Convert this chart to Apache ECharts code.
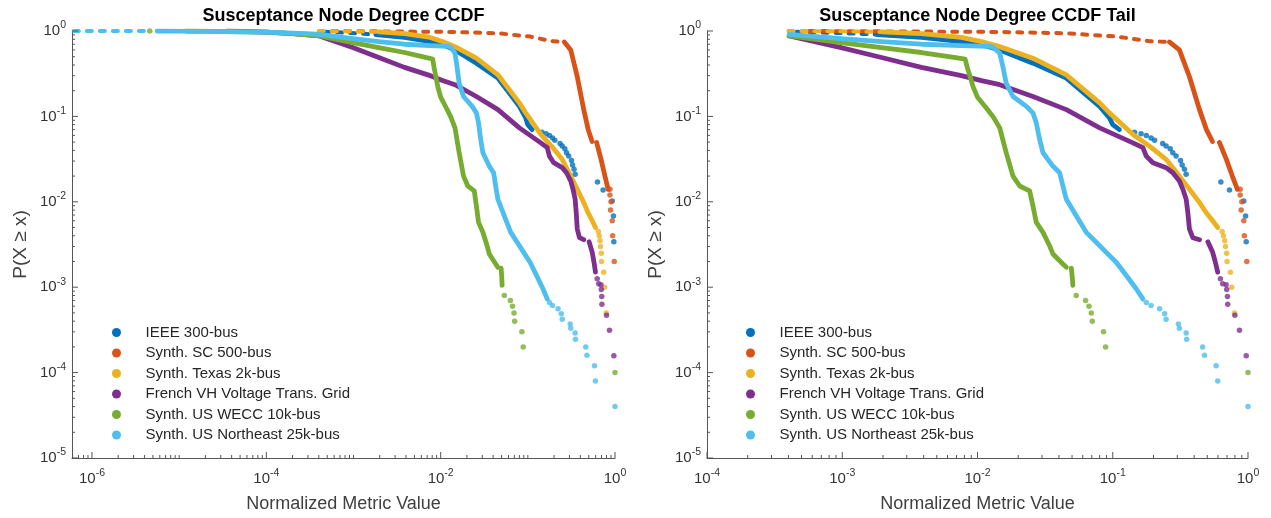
<!DOCTYPE html>
<html>
<head>
<meta charset="utf-8">
<script src="https://cdn.jsdelivr.net/npm/echarts@6.0.0/dist/echarts.min.js"></script>
<style>
html, body { margin: 0; background: #fff; }
#chart { width: 1271px; height: 518px; }
</style>
</head>
<body>
<div id="chart"></div>
<script>
// legend names / colours (MATLAB default order)
var names = ['IEEE 300-bus', 'Synth. SC 500-bus', 'Synth. Texas 2k-bus',
             'French VH Voltage Trans. Grid', 'Synth. US WECC 10k-bus', 'Synth. US Northeast 25k-bus'];
var colors = ['#0072BD', '#D95319', '#EDB120', '#7E2F8E', '#77AC30', '#4DBEEE'];

// axis ranges
var xMinLeft = 5.9e-7, xMinRight = 1e-4, tailMin = 4e-4, yMin = 1e-5;

// --- IEEE 300-bus ---
var ieeeTop = [[4.6e-4, 0.98], [9e-4, 0.95], [1.8e-3, 0.91]];
var ieeeLine = [[1.8e-3, 0.91], [3.85e-3, 0.84], [7.6e-3, 0.75], [0.0107, 0.69], [0.0146, 0.60],
  [0.0257, 0.42], [0.0454, 0.281], [0.080, 0.131], [0.0946, 0.096], [0.1, 0.080], [0.112, 0.070]];
var ieeeDots = [[0.145, 0.0654], [0.162, 0.0625], [0.177, 0.0597], [0.192, 0.0557], [0.204, 0.0527],
  [0.234, 0.0482], [0.248, 0.0449], [0.266, 0.0418], [0.278, 0.0376], [0.294, 0.0343], [0.317, 0.0305],
  [0.326, 0.0269], [0.339, 0.024], [0.349, 0.021], [0.63, 0.017], [0.73, 0.0137], [0.93, 0.0102],
  [0.96, 0.0068], [0.97, 0.0034]];

// --- Synth. SC 500-bus ---
var scTop = [[5.7e-4, 1.0], [3.9e-3, 0.985], [0.0146, 0.975], [0.0456, 0.94], [0.107, 0.86],
  [0.187, 0.76], [0.25, 0.745]];
var scLineA = [[0.262, 0.744], [0.311, 0.60], [0.369, 0.291], [0.438, 0.12], [0.493, 0.070], [0.546, 0.0508]];
var scLineB = [[0.615, 0.0495], [0.692, 0.0314], [0.767, 0.0199], [0.835, 0.014]];
var scDots = [[0.875, 0.014], [0.875, 0.012], [0.90, 0.010], [0.89, 0.008], [0.93, 0.006],
  [0.94, 0.004], [0.98, 0.002]];

// --- Synth. Texas 2k-bus ---
var txTop = [[4.0e-4, 1.0], [1.0e-3, 0.99], [1.95e-3, 0.975]];
var txLine = [[1.95e-3, 0.975], [3.85e-3, 0.93], [7.6e-3, 0.84], [0.0107, 0.75], [0.0146, 0.656],
  [0.0257, 0.48], [0.0454, 0.307], [0.080, 0.144], [0.0946, 0.11], [0.141, 0.0614], [0.187, 0.0449],
  [0.248, 0.0314], [0.311, 0.020], [0.369, 0.014], [0.438, 0.0098], [0.49, 0.0075], [0.548, 0.006],
  [0.597, 0.005]];
var txDots = [[0.644, 0.0045], [0.658, 0.004], [0.673, 0.0035], [0.681, 0.003], [0.696, 0.0025],
  [0.70, 0.002], [0.741, 0.0015], [0.758, 0.001], [0.794, 0.0005]];

// --- French VH Voltage Trans. Grid ---
var frLineA = [[3.6e-5, 1.0], [1.0e-4, 0.97], [2.0e-4, 0.93], [4.05e-4, 0.875], [9.8e-4, 0.64],
  [1.95e-3, 0.49], [3.85e-3, 0.375], [7.6e-3, 0.30], [0.0107, 0.262], [0.0146, 0.235], [0.0257, 0.171],
  [0.0454, 0.12], [0.080, 0.0734], [0.141, 0.049], [0.167, 0.043], [0.177, 0.0343], [0.198, 0.0287],
  [0.248, 0.0251], [0.278, 0.0219], [0.311, 0.0175], [0.33, 0.014], [0.349, 0.0107], [0.359, 0.0075],
  [0.369, 0.0048], [0.391, 0.0038], [0.438, 0.0036]];
var frLineB = [[0.505, 0.0034], [0.548, 0.00256], [0.574, 0.00196], [0.597, 0.0015]];
var frDots = [[0.625, 0.00126], [0.65, 0.0011], [0.689, 0.00107], [0.696, 0.00094], [0.705, 0.00078],
  [0.708, 0.00063], [0.80, 0.00047], [0.865, 0.000314], [0.97, 0.000157]];

// --- Synth. US WECC 10k-bus ---
var wcLineA = [[1.2e-5, 1.0], [1.0e-4, 0.97], [2.0e-4, 0.93], [4.05e-4, 0.875], [9.8e-4, 0.73],
  [1.95e-3, 0.64], [3.85e-3, 0.56], [6.7e-3, 0.49], [8.1e-3, 0.47], [8.4e-3, 0.375], [9.0e-3, 0.262],
  [9.3e-3, 0.22], [0.01, 0.168], [0.0115, 0.128], [0.0131, 0.098], [0.0146, 0.0734], [0.0163, 0.0376],
  [0.0183, 0.020], [0.0205, 0.0153], [0.0243, 0.0134], [0.0257, 0.00896], [0.0272, 0.00574],
  [0.0305, 0.00439], [0.0341, 0.00306], [0.0361, 0.00245], [0.0428, 0.00187], [0.0454, 0.00171]];
var wcLineB = [[0.0494, 0.00167], [0.0502, 0.00131], [0.0507, 0.00105]];
var wcDots = [[4.6e-6, 1.0], [0.0537, 0.0008], [0.063, 0.0007], [0.0667, 0.0006], [0.0694, 0.0005],
  [0.0706, 0.0004], [0.0855, 0.0003], [0.0885, 0.0002], [1.0, 0.0001]];

// --- Synth. US Northeast 25k-bus ---
var neTop = [[6.2e-7, 1.0], [4.0e-6, 1.0]];
var neLine = [[5.6e-6, 1.0], [1e-5, 0.995], [1e-4, 0.97], [2.9e-4, 0.93], [4.05e-4, 0.915],
  [9.8e-4, 0.815], [1.95e-3, 0.75], [3.85e-3, 0.70], [7.6e-3, 0.675], [0.0123, 0.66], [0.0131, 0.64],
  [0.0146, 0.55], [0.0154, 0.384], [0.0163, 0.245], [0.0183, 0.171], [0.023, 0.131], [0.0257, 0.11],
  [0.0272, 0.084], [0.0288, 0.0537], [0.0305, 0.0375], [0.0361, 0.0262], [0.0405, 0.0219],
  [0.0428, 0.0153], [0.0454, 0.0107], [0.0537, 0.00685], [0.0637, 0.00439], [0.0755, 0.00336],
  [0.0895, 0.00256], [0.106, 0.00196], [0.126, 0.00137], [0.149, 0.00096], [0.167, 0.00073]];
var neDots = [[0.177, 0.00066], [0.192, 0.00061], [0.222, 0.00056], [0.242, 0.00049], [0.248, 0.00042],
  [0.306, 0.00037], [0.311, 0.00033], [0.349, 0.00029], [0.352, 0.000245], [0.462, 0.0002],
  [0.477, 0.00016], [0.581, 0.00012], [0.597, 0.00008], [1.0, 0.00004]];

var sets = [
  {dashed: [ieeeTop], lines: [ieeeLine], dots: ieeeDots},
  {dashed: [scTop], lines: [scLineA, scLineB], dots: scDots},
  {dashed: [txTop], lines: [txLine], dots: txDots},
  {dashed: [], lines: [frLineA, frLineB], dots: frDots},
  {dashed: [], lines: [wcLineA, wcLineB], dots: wcDots},
  {dashed: [neTop], lines: [neLine], dots: neDots}
];

var FONT = 'Liberation Sans, Arial, sans-serif';
var AXIS_COLOR = '#555';
var LABEL_COLOR = '#333';

var dom = document.getElementById('chart');
var myChart = echarts.init(dom);

function powLabel(skipOdd) {
  return function (v) {
    var l = Math.log10(v), e = Math.round(l);
    if (Math.abs(l - e) > 1e-6) return '';
    if (skipOdd && e % 2 !== 0) return '';
    return '{b|10}{s|' + e + '}';
  };
}
var labelRich = {
  b: {fontSize: 15, color: LABEL_COLOR, fontFamily: FONT},
  s: {fontSize: 10.5, color: LABEL_COLOR, fontFamily: FONT, padding: [0, 0, 11, 0]}
};

function logTicks(lo, hi) {
  var out = [];
  for (var e = Math.floor(Math.log10(lo)); e <= Math.ceil(Math.log10(hi)); e++) {
    for (var m = 1; m <= 9; m++) {
      var v = m * Math.pow(10, e);
      if (v >= lo * 0.9999 && v <= hi * 1.0001) out.push({v: v, m: m, e: e});
    }
  }
  return out;
}

function tickSeries(gi, xmin, xmax, skipOdd) {
  var xd = [], yd = [];
  logTicks(xmin, xmax).forEach(function (t) {
    var major = t.m === 1 && !(skipOdd && t.e % 2 !== 0);
    xd.push([t.v, major ? 6 : 3, yMin]);
  });
  logTicks(yMin, 1).forEach(function (t) {
    yd.push([xmin, t.v, t.m === 1 ? 6 : 3]);
  });
  return [{
    type: 'custom', xAxisIndex: gi, yAxisIndex: gi, silent: true, clip: false, z: 5,
    data: xd, encode: {x: 0, y: 2},
    renderItem: function (p, api) {
      var c = api.coord([api.value(0), api.value(2)]);
      var L = api.value(1);
      return {type: 'line', shape: {x1: c[0], y1: c[1], x2: c[0], y2: c[1] - L},
              style: {stroke: AXIS_COLOR, lineWidth: 1}};
    }
  }, {
    type: 'custom', xAxisIndex: gi, yAxisIndex: gi, silent: true, clip: false, z: 5,
    data: yd, encode: {x: 0, y: 1},
    renderItem: function (p, api) {
      var c = api.coord([api.value(0), api.value(1)]);
      var L = api.value(2);
      return {type: 'line', shape: {x1: c[0], y1: c[1], x2: c[0] + L, y2: c[1]},
              style: {stroke: AXIS_COLOR, lineWidth: 1}};
    }
  }];
}

function dataSeries(gi, xmin) {
  var out = [];
  sets.forEach(function (d, k) {
    var keep = function (p) { return p[0] >= xmin; };
    var base = {name: names[k], xAxisIndex: gi, yAxisIndex: gi, silent: true,
                emphasis: {disabled: true}, animation: false};
    d.dashed.forEach(function (seg) {
      var pts = seg.filter(keep);
      if (pts.length > 1) out.push(echarts.util.extend({
        type: 'line', data: pts, symbol: 'none', showSymbol: false,
        itemStyle: {color: colors[k]},
        lineStyle: {color: colors[k], width: 4, type: [5, 8], cap: 'round', join: 'round'}
      }, base));
    });
    d.lines.forEach(function (seg) {
      var pts = seg.filter(keep);
      if (pts.length > 1) out.push(echarts.util.extend({
        type: 'line', data: pts, symbol: 'none', showSymbol: false,
        itemStyle: {color: colors[k]},
        lineStyle: {color: colors[k], width: 4.8, cap: 'round', join: 'round'}
      }, base));
    });
    out.push(echarts.util.extend({
      type: 'scatter', data: d.dots.filter(keep), symbolSize: 5.5,
      itemStyle: {color: colors[k]}
    }, base));
  });
  return out;
}

function xAxisFor(gi, min, skipOdd) {
  return {
    type: 'log', logBase: 10, gridIndex: gi, min: min, max: 1,
    name: 'Normalized Metric Value', nameLocation: 'middle', nameGap: 37,
    nameTextStyle: {fontSize: 18, color: '#404040', fontFamily: FONT},
    axisLine: {lineStyle: {color: AXIS_COLOR, width: 1}},
    axisTick: {show: false}, splitLine: {show: false}, minorTick: {show: false},
    axisLabel: {formatter: powLabel(skipOdd), rich: labelRich, margin: 10, showMinLabel: true}
  };
}
function yAxisFor(gi) {
  return {
    type: 'log', logBase: 10, gridIndex: gi, min: yMin, max: 1,
    name: 'P(X \u2265 x)', nameLocation: 'middle', nameGap: 42,
    nameTextStyle: {fontSize: 19, color: '#404040', fontFamily: FONT},
    axisLine: {lineStyle: {color: AXIS_COLOR, width: 1}},
    axisTick: {show: false}, splitLine: {show: false},
    axisLabel: {formatter: powLabel(false), rich: labelRich, margin: 6}
  };
}

function legendFor(left) {
  return {
    orient: 'vertical', left: left, top: 320, itemGap: 5.5,
    itemWidth: 48, itemHeight: 9, icon: 'circle',
    textStyle: {fontSize: 15, color: '#262626', fontFamily: FONT},
    data: names.map(function (n, k) { return {name: n, itemStyle: {color: colors[k]}}; })
  };
}

option = {
  backgroundColor: '#fff',
  animation: false,
  grid: [
    {left: 72, top: 31, width: 543, height: 429},
    {left: 707, top: 31, width: 541, height: 429}
  ],
  xAxis: [xAxisFor(0, xMinLeft, true), xAxisFor(1, xMinRight, false)],
  yAxis: [yAxisFor(0), yAxisFor(1)],
  legend: [legendFor(107), legendFor(741)],
  graphic: [
    {type: 'text', x: 343.5, y: 16, style: {text: 'Susceptance Node Degree CCDF', align: 'center',
      verticalAlign: 'middle', fontSize: 18, fontWeight: 'bold', fill: '#000', fontFamily: FONT}},
    {type: 'text', x: 977.5, y: 16, style: {text: 'Susceptance Node Degree CCDF Tail', align: 'center',
      verticalAlign: 'middle', fontSize: 18, fontWeight: 'bold', fill: '#000', fontFamily: FONT}}
  ],
  series: [].concat(
    dataSeries(0, xMinLeft), dataSeries(1, tailMin),
    tickSeries(0, xMinLeft, 1, true), tickSeries(1, xMinRight, 1, false)
  )
};
myChart.setOption(option, true);
</script>
</body>
</html>
